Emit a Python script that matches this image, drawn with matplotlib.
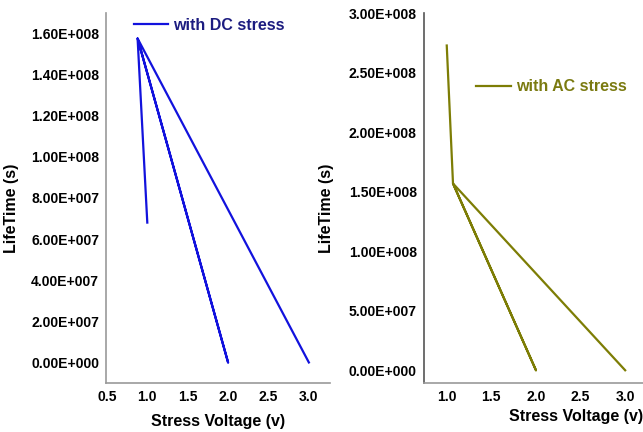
import matplotlib.pyplot as plt

plt.rcParams['font.family'] = ['Liberation Sans', 'DejaVu Sans']
plt.rcParams['font.weight'] = 'bold'

# DC stress lifetime vs voltage (points in drawing order)
dc_voltage = [1.0, 0.88, 2.0, 0.88, 3.0]
dc_lifetime = [6.8e7, 1.575e8, 0.0, 1.575e8, 0.0]

# AC stress lifetime vs voltage (points in drawing order)
ac_voltage = [1.0, 1.07, 2.0, 1.07, 3.0]
ac_lifetime = [2.73e8, 1.57e8, 0.0, 1.57e8, 0.0]

dc_yticks = [0, 2e7, 4e7, 6e7, 8e7, 1e8, 1.2e8, 1.4e8, 1.6e8]
ac_yticks = [0, 5e7, 1e8, 1.5e8, 2e8, 2.5e8, 3e8]
dc_xticks = [0.5, 1.0, 1.5, 2.0, 2.5, 3.0]
ac_xticks = [1.0, 1.5, 2.0, 2.5, 3.0]


def fmt_sci(v):
    s = "%.2E" % v
    mant, exp = s.split("E")
    sign = exp[0]
    return "%sE%s%03d" % (mant, sign, abs(int(exp)))


fig = plt.figure(figsize=(6.43, 4.32), dpi=100)
ax1 = fig.add_axes([0.165, 0.1134, 0.348, 0.857])
ax2 = fig.add_axes([0.659, 0.114, 0.341, 0.855])

# left panel
ax1.plot(dc_voltage, dc_lifetime, color='#1212dd', lw=1.6, label='with DC stress')
ax1.set_xlim(0.49, 3.26)
ax1.set_ylim(-1e7, 1.7e8)
ax1.set_yticks(dc_yticks)
ax1.set_yticklabels([fmt_sci(v) for v in dc_yticks])
ax1.set_xticks(dc_xticks)
ax1.set_xticklabels(["%.1f" % v for v in dc_xticks])
ax1.set_xlabel('Stress Voltage (v)', fontsize=11.5, fontweight='bold')
ax1.set_ylabel('LifeTime (s)', fontsize=11.5, fontweight='bold')
ax1.yaxis.set_label_coords(-0.388, 0.473)
ax1.xaxis.set_label_coords(0.5, -0.085)
leg1 = ax1.legend(loc='upper left', bbox_to_anchor=(0.06, 1.025), frameon=False,
                  fontsize=11.5, handlelength=2.15, handletextpad=0.3)
for t in leg1.get_texts():
    t.set_color('#1c1c80')

# right panel
ax2.plot(ac_voltage, ac_lifetime, color='#7d7d05', lw=1.6, label='with AC stress')
ax2.set_xlim(0.742, 3.2)
ax2.set_ylim(-1.05e7, 3.0e8)
ax2.set_yticks(ac_yticks)
ax2.set_yticklabels([fmt_sci(v) for v in ac_yticks])
ax2.set_xticks(ac_xticks)
ax2.set_xticklabels(["%.1f" % v for v in ac_xticks])
ax2.set_xlabel('Stress Voltage (v)', fontsize=11.5, fontweight='bold')
ax2.set_ylabel('LifeTime (s)', fontsize=11.5, fontweight='bold')
ax2.yaxis.set_label_coords(-0.411, 0.473)
ax2.xaxis.set_label_coords(0.696, -0.07)
leg2 = ax2.legend(loc='upper left', bbox_to_anchor=(0.175, 0.86), frameon=False,
                  fontsize=11.5, handlelength=2.15, handletextpad=0.3)
for t in leg2.get_texts():
    t.set_color('#7a7a10')

for ax, lc in ((ax1, '#999999'), (ax2, '#555555')):
    ax.spines['top'].set_visible(False)
    ax.spines['right'].set_visible(False)
    ax.spines['left'].set_color(lc)
    ax.spines['bottom'].set_color('#999999')
    ax.spines['left'].set_linewidth(1.2)
    ax.spines['bottom'].set_linewidth(1.2)
    ax.tick_params(length=0, pad=5, labelsize=10)
    for lbl in ax.get_xticklabels() + ax.get_yticklabels():
        lbl.set_fontweight('bold')

fig.savefig('out.png', dpi=100)
